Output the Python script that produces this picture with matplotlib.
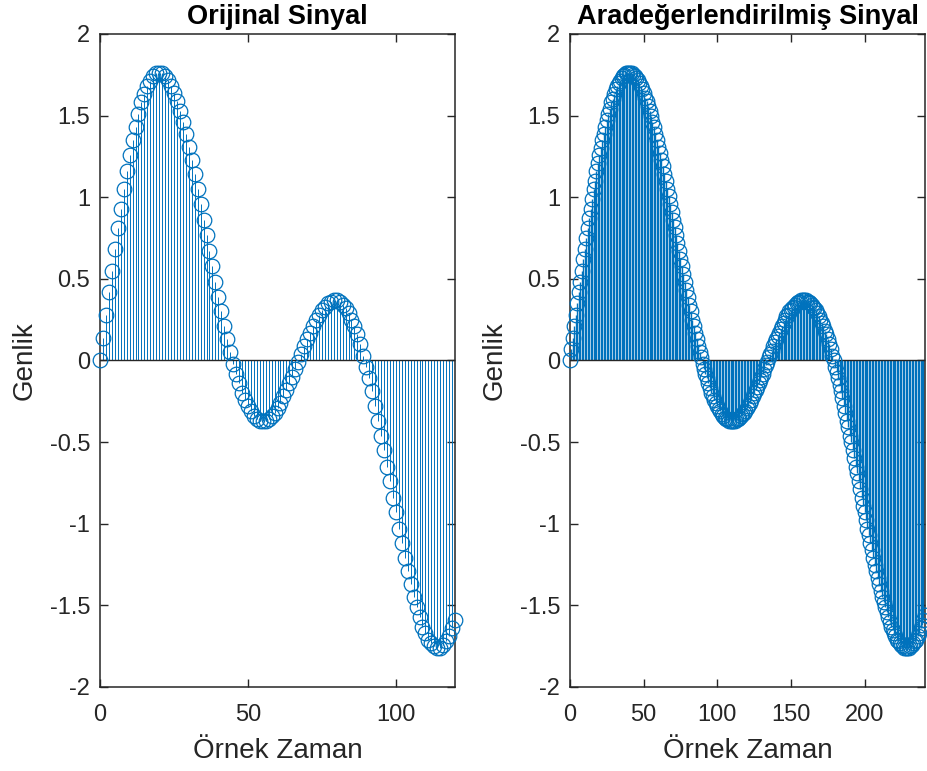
import numpy as np
import matplotlib
matplotlib.use('Agg')
import matplotlib.pyplot as plt
from matplotlib.ticker import FuncFormatter

# Orijinal sinyal (121 örnek)
orijinal = [
    0.00, 0.14, 0.28, 0.42, 0.55, 0.68, 0.81, 0.93, 1.05, 1.16,
    1.26, 1.35, 1.43, 1.51, 1.58, 1.63, 1.68, 1.71, 1.74, 1.76,
    1.76, 1.76, 1.74, 1.72, 1.68, 1.64, 1.59, 1.53, 1.46, 1.39,
    1.31, 1.23, 1.14, 1.05, 0.96, 0.86, 0.77, 0.67, 0.58, 0.48,
    0.39, 0.30, 0.21, 0.13, 0.05, -0.02, -0.08, -0.14, -0.20, -0.24,
    -0.28, -0.31, -0.34, -0.36, -0.37, -0.37, -0.37, -0.36, -0.34, -0.32,
    -0.29, -0.26, -0.22, -0.18, -0.14, -0.10, -0.05, -0.01, 0.04, 0.09,
    0.13, 0.17, 0.21, 0.25, 0.28, 0.31, 0.33, 0.35, 0.36, 0.37,
    0.37, 0.36, 0.34, 0.32, 0.29, 0.25, 0.21, 0.16, 0.10, 0.03,
    -0.04, -0.11, -0.19, -0.28, -0.37, -0.46, -0.55, -0.65, -0.74, -0.84,
    -0.93, -1.03, -1.12, -1.21, -1.29, -1.37, -1.45, -1.51, -1.57, -1.63,
    -1.67, -1.71, -1.73, -1.75, -1.76, -1.76, -1.74, -1.72, -1.69, -1.64,
    -1.59,
]

# Aradeğerlendirilmiş sinyal (242 örnek) - right panel
aradeger = [
    0.00, 0.07, 0.14, 0.21, 0.28, 0.35, 0.42, 0.48, 0.55, 0.62,
    0.68, 0.75, 0.81, 0.87, 0.93, 0.99, 1.05, 1.10, 1.16, 1.21,
    1.26, 1.30, 1.35, 1.39, 1.43, 1.47, 1.51, 1.54, 1.58, 1.60,
    1.63, 1.66, 1.68, 1.70, 1.71, 1.73, 1.74, 1.75, 1.76, 1.76,
    1.76, 1.76, 1.76, 1.75, 1.74, 1.73, 1.72, 1.70, 1.68, 1.66,
    1.64, 1.61, 1.59, 1.56, 1.53, 1.50, 1.46, 1.43, 1.39, 1.35,
    1.31, 1.27, 1.23, 1.19, 1.14, 1.10, 1.05, 1.01, 0.96, 0.91,
    0.86, 0.82, 0.77, 0.72, 0.67, 0.62, 0.58, 0.53, 0.48, 0.43,
    0.39, 0.34, 0.30, 0.25, 0.21, 0.17, 0.13, 0.09, 0.05, 0.02,
    -0.02, -0.05, -0.08, -0.11, -0.14, -0.17, -0.20, -0.22, -0.24, -0.26,
    -0.28, -0.30, -0.31, -0.33, -0.34, -0.35, -0.36, -0.36, -0.37, -0.37,
    -0.37, -0.37, -0.37, -0.36, -0.36, -0.35, -0.34, -0.33, -0.32, -0.31,
    -0.29, -0.28, -0.26, -0.24, -0.22, -0.20, -0.18, -0.16, -0.14, -0.12,
    -0.10, -0.08, -0.05, -0.03, -0.01, 0.02, 0.04, 0.06, 0.09, 0.11,
    0.13, 0.15, 0.17, 0.19, 0.21, 0.23, 0.25, 0.27, 0.28, 0.30,
    0.31, 0.32, 0.33, 0.34, 0.35, 0.36, 0.36, 0.37, 0.37, 0.37,
    0.37, 0.36, 0.36, 0.35, 0.34, 0.33, 0.32, 0.31, 0.29, 0.27,
    0.25, 0.23, 0.21, 0.18, 0.16, 0.13, 0.10, 0.07, 0.03, 0.00,
    -0.04, -0.07, -0.11, -0.15, -0.19, -0.23, -0.28, -0.32, -0.37, -0.41,
    -0.46, -0.50, -0.55, -0.60, -0.65, -0.69, -0.74, -0.79, -0.84, -0.89,
    -0.93, -0.98, -1.03, -1.07, -1.12, -1.16, -1.21, -1.25, -1.29, -1.33,
    -1.37, -1.41, -1.45, -1.48, -1.51, -1.54, -1.57, -1.60, -1.63, -1.65,
    -1.67, -1.69, -1.71, -1.72, -1.73, -1.74, -1.75, -1.76, -1.76, -1.76,
    -1.76, -1.75, -1.74, -1.73, -1.72, -1.71, -1.69, -1.67, -1.64, -1.62,
    -1.59, -1.56,
]

titles = ['Orijinal Sinyal', 'Aradeğerlendirilmiş Sinyal']
xticks_left = [0, 50, 100]
xticks_right = [0, 50, 100, 150, 200]
yticks = [-2, -1.5, -1, -0.5, 0, 0.5, 1, 1.5, 2]

blue = '#0072BD'
dark = '#262626'

plt.rcParams['font.family'] = ['Liberation Sans', 'DejaVu Sans']
plt.rcParams['axes.unicode_minus'] = False

fig = plt.figure(figsize=(9.28, 7.71), dpi=100)
ax1 = fig.add_axes([0.1078, 0.109, 0.3825, 0.847])
ax2 = fig.add_axes([0.6142, 0.109, 0.3825, 0.847])

panels = [(ax1, orijinal, titles[0], 120, xticks_left, 0.7),
          (ax2, aradeger, titles[1], 241, xticks_right, 1.0)]

for ax, y, title, xmax, xt, stem_lw in panels:
    n = np.arange(len(y))
    m, s, b = ax.stem(n, y, linefmt='-', markerfmt='o', basefmt='-')
    plt.setp(s, color=blue, linewidth=stem_lw)
    plt.setp(m, markerfacecolor='none', markeredgecolor=blue,
             markersize=10.5, markeredgewidth=0.9, clip_on=False, zorder=3)
    plt.setp(b, color=dark, linewidth=1.0)
    ax.set_xlim(0, xmax)
    ax.set_ylim(-2, 2)
    ax.set_xticks(xt)
    ax.set_yticks(yticks)
    ax.yaxis.set_major_formatter(FuncFormatter(lambda v, p: f'{v:g}'))
    ax.set_title(title, fontsize=19.5, fontweight='bold', pad=7)
    ax.set_xlabel('Örnek Zaman', fontsize=20, color=dark, labelpad=9)
    ax.set_ylabel('Genlik', fontsize=20, color=dark, labelpad=9)
    ax.tick_params(direction='in', top=True, right=True, labelsize=17,
                   colors=dark, length=5.5, width=1.0)
    ax.tick_params(axis='x', pad=12)
    ax.tick_params(axis='y', pad=7)
    for sp in ax.spines.values():
        sp.set_color(dark)
        sp.set_linewidth(1.1)

fig.savefig('out.png', dpi=100)
